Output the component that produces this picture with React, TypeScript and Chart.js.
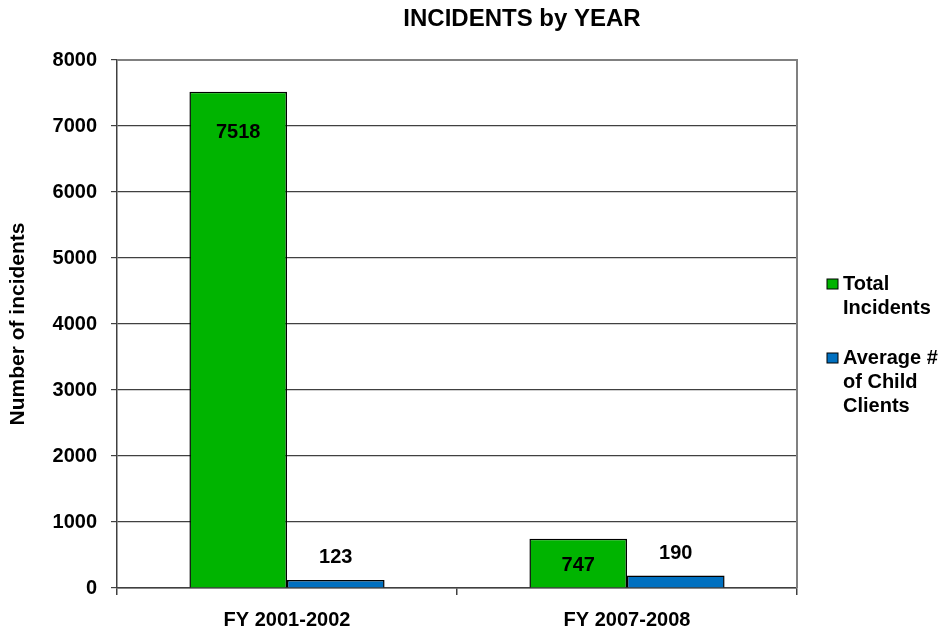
import React, { useEffect, useRef } from "react";
import { Chart, registerables } from "chart.js";

Chart.register(...registerables);

const categories = ["FY 2001-2002", "FY 2007-2008"];
const totalIncidents = [7518, 747];
const avgChildClients = [123, 190];
const yTicks = [0, 1000, 2000, 3000, 4000, 5000, 6000, 7000, 8000];
const seriesNames = [["Total", "Incidents"], ["Average #", "of Child", "Clients"]];
const chartTitle = "INCIDENTS by YEAR";
const yAxisTitle = "Number of incidents";

const GREEN = "#00B400";
const BLUE = "#0070C0";
const FONT = "'Liberation Sans', Arial, sans-serif";

const overlay = {
  id: "overlay",
  afterDraw(chart: any) {
    const ctx = chart.ctx;
    const ca = chart.chartArea;
    ctx.save();
    ctx.strokeStyle = "#808080";
    ctx.lineWidth = 2;
    ctx.beginPath();
    ctx.moveTo(ca.left, ca.top);
    ctx.lineTo(ca.right, ca.top);
    ctx.lineTo(ca.right, ca.bottom);
    ctx.stroke();

    ctx.fillStyle = "#000";
    ctx.font = `bold 24px ${FONT}`;
    ctx.textAlign = "center";
    ctx.textBaseline = "middle";
    ctx.fillText(chartTitle, 522, 19);

    ctx.save();
    ctx.translate(18, (ca.top + ca.bottom) / 2);
    ctx.rotate(-Math.PI / 2);
    ctx.font = `bold 21px ${FONT}`;
    ctx.fillText(yAxisTitle, 0, 0);
    ctx.restore();

    ctx.font = `bold 20px ${FONT}`;
    const m0 = chart.getDatasetMeta(0);
    const m1 = chart.getDatasetMeta(1);
    m0.data.forEach((bar: any, i: number) => {
      const y = Math.min(bar.y + 41, (bar.y + bar.base) / 2 + 2);
      ctx.fillText(String(totalIncidents[i]), bar.x, y);
    });
    m1.data.forEach((bar: any, i: number) => {
      ctx.fillText(String(avgChildClients[i]), bar.x, bar.y - 22);
    });

    const colors = [GREEN, BLUE];
    const starts = [284, 358];
    ctx.textAlign = "left";
    ctx.font = `bold 20px ${FONT}`;
    seriesNames.forEach((lines, s) => {
      const y0 = starts[s];
      ctx.fillStyle = colors[s];
      ctx.fillRect(827, y0 - 5, 11, 10);
      ctx.strokeStyle = "#000";
      ctx.lineWidth = 1;
      ctx.strokeRect(827, y0 - 5, 11, 10);
      ctx.fillStyle = "#000";
      lines.forEach((t, k) => ctx.fillText(t, 843, y0 + k * 24));
    });
    ctx.restore();
  },
};

export default function App() {
  const ref = useRef<HTMLCanvasElement>(null);
  useEffect(() => {
    document.body.style.margin = "0";
    const chart = new Chart(ref.current!, {
      type: "bar",
      data: {
        labels: categories,
        datasets: [
          {
            label: seriesNames[0].join(" "),
            data: totalIncidents,
            backgroundColor: GREEN,
            borderColor: "#000",
            borderWidth: 1.5,
            categoryPercentage: 0.574,
            barPercentage: 1,
          },
          {
            label: seriesNames[1].join(" "),
            data: avgChildClients,
            backgroundColor: BLUE,
            borderColor: "#000",
            borderWidth: 1.5,
            categoryPercentage: 0.574,
            barPercentage: 1,
          },
        ],
      },
      options: {
        animation: false,
        responsive: false,
        layout: { padding: { top: 60, right: 144, left: 0, bottom: 0 } },
        plugins: { legend: { display: false }, title: { display: false }, tooltip: { enabled: false } },
        scales: {
          x: {
            grid: { display: true, drawOnChartArea: false, drawTicks: true, tickLength: 7, color: "#404040", lineWidth: 1.5 },
            border: { display: true, color: "#404040", width: 1.5 },
            ticks: { color: "#000", font: { family: FONT, size: 20, weight: "bold" }, padding: 13 },
            afterFit(scale: any) { scale.height = 42; },
          },
          y: {
            min: 0,
            max: 8000,
            afterBuildTicks(scale: any) { scale.ticks = yTicks.map((v) => ({ value: v })); },
            grid: { color: "#404040", lineWidth: 1.2, tickLength: 6 },
            border: { display: true, color: "#404040", width: 1.5 },
            ticks: {
              color: "#000",
              font: { family: FONT, size: 20, weight: "bold" },
              padding: 14,
              callback: (v: any) => String(v),
            },
            afterFit(scale: any) { scale.width = 117; },
          },
        },
      },
      plugins: [overlay],
    });
    return () => chart.destroy();
  }, []);
  return (
    <div style={{ position: "relative", width: 941, height: 630 }}>
      <canvas ref={ref} width={941} height={630} style={{ width: 941, height: 630 }} />
    </div>
  );
}
